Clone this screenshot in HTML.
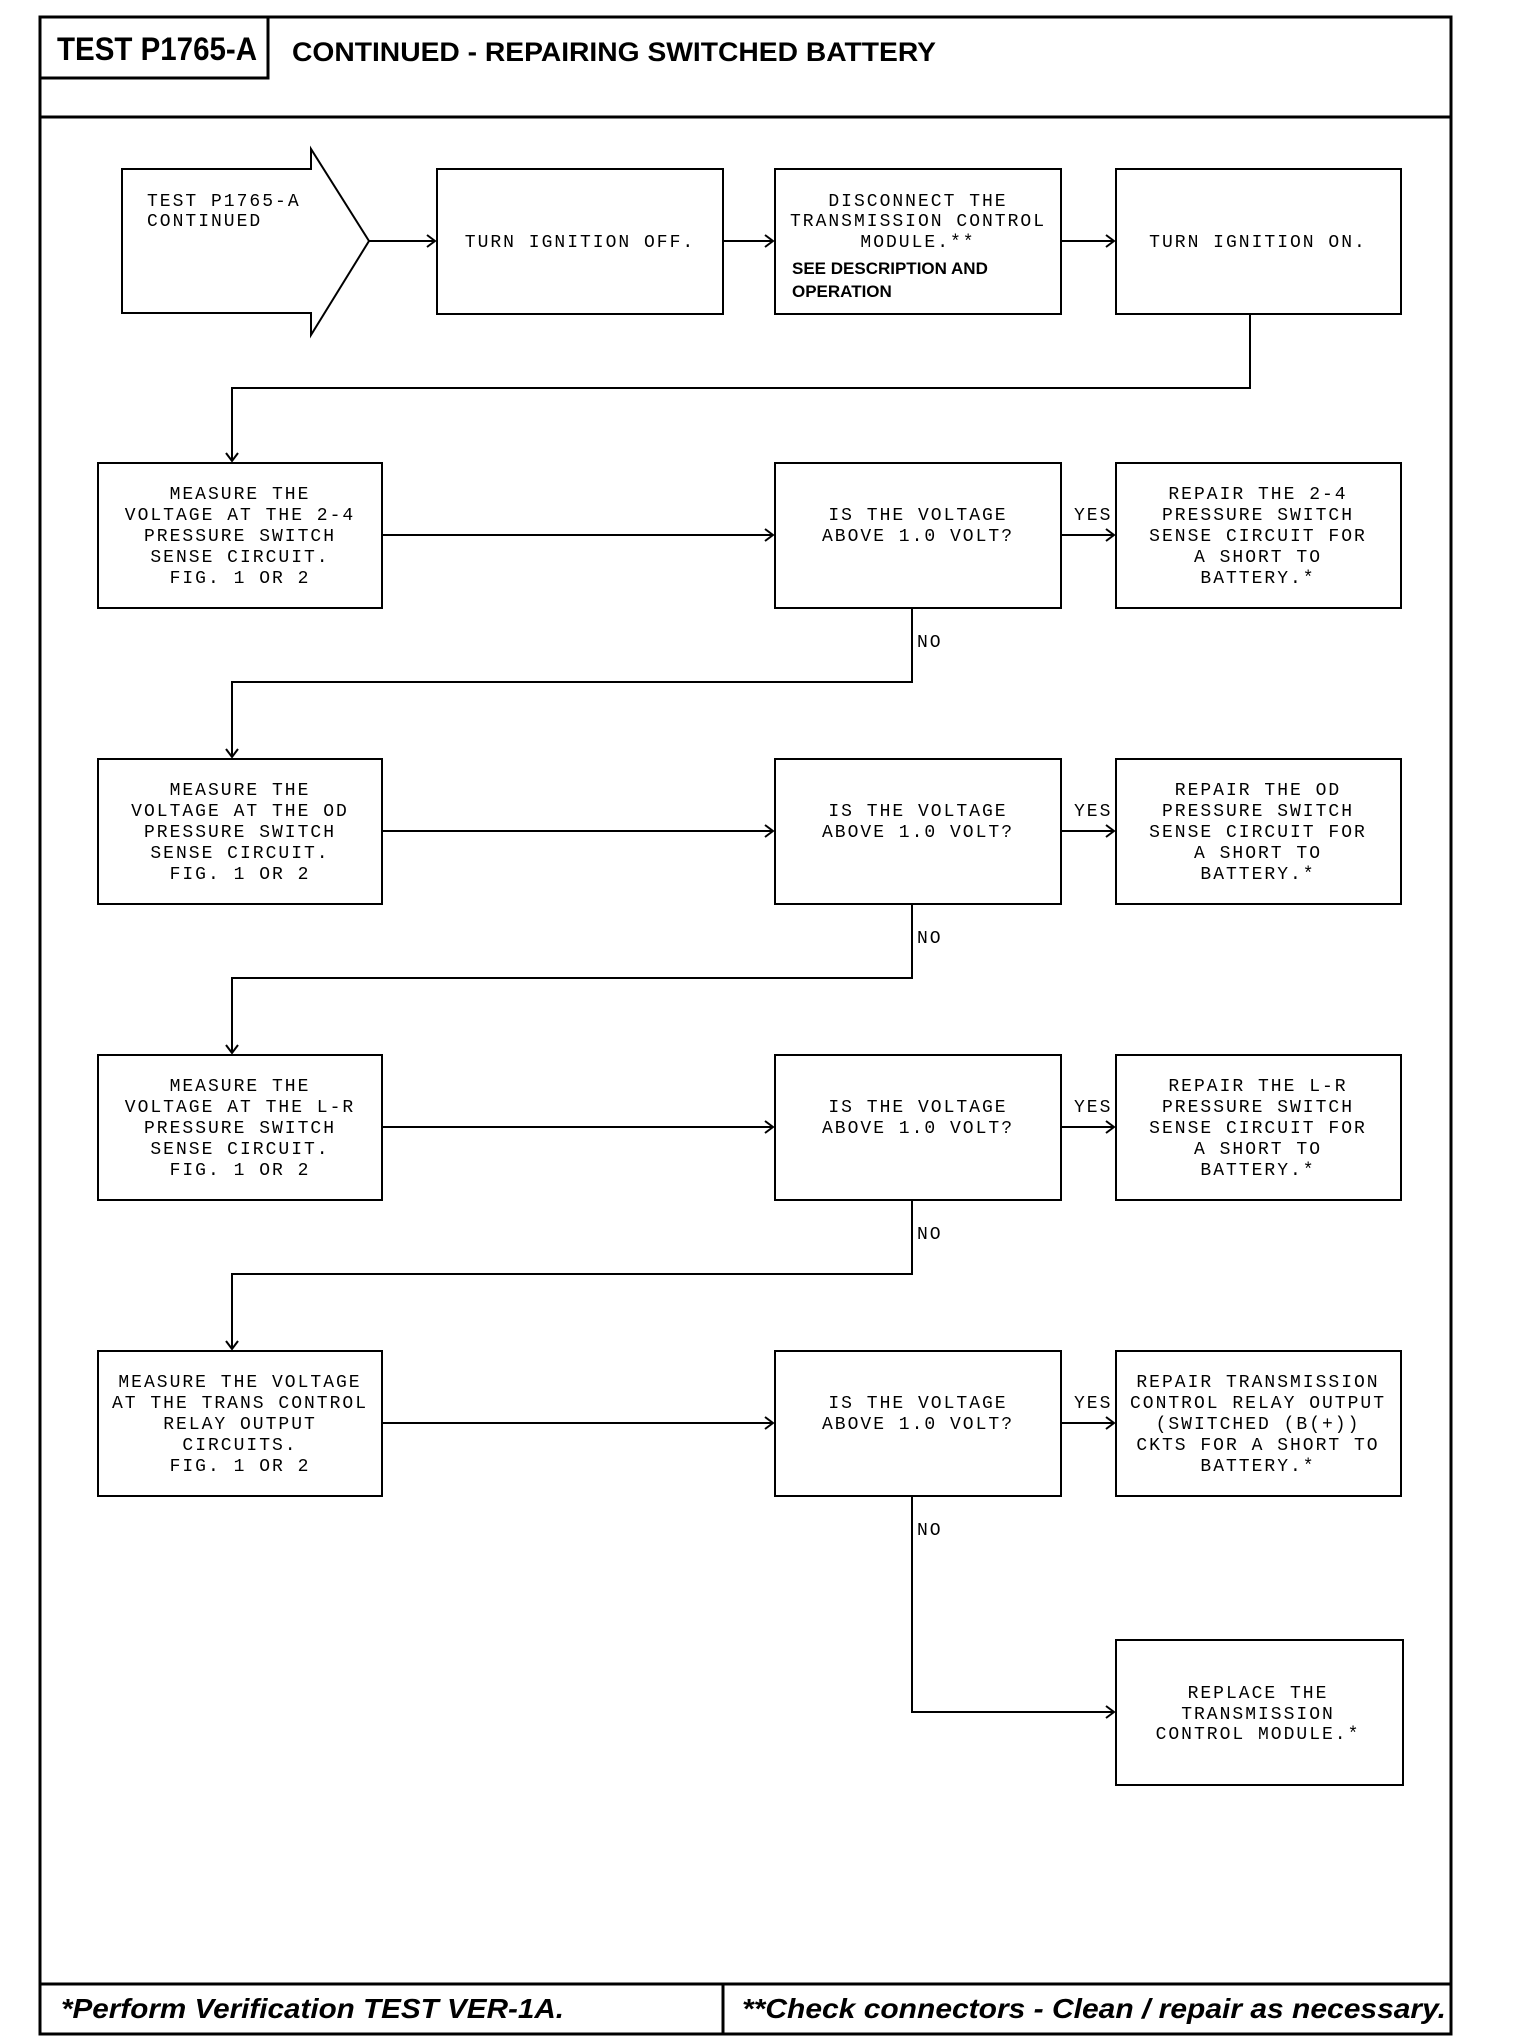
<!DOCTYPE html>
<html><head><meta charset="utf-8"><style>
html,body{margin:0;padding:0;background:#fff}
svg{display:block}
.m{font-family:"Liberation Mono",monospace;font-size:18px;letter-spacing:2px;fill:#000}
.b{font-family:"Liberation Sans",sans-serif;font-weight:bold;fill:#000}
</style></head><body>
<svg width="1520" height="2038" viewBox="0 0 1520 2038" xmlns="http://www.w3.org/2000/svg">
<g fill="none" stroke="#000" stroke-width="3">
<rect x="40" y="17" width="1411" height="2017"/>
<line x1="40" y1="117" x2="1451" y2="117"/>
<polyline points="40,78 268,78 268,17"/>
<line x1="40" y1="1984" x2="1451" y2="1984"/>
<line x1="723" y1="1984" x2="723" y2="2034"/>
</g>
<text class="b" x="57" y="60" font-size="32" textLength="200" lengthAdjust="spacingAndGlyphs">TEST P1765-A</text>
<text class="b" x="292" y="61" font-size="27" textLength="644" lengthAdjust="spacingAndGlyphs">CONTINUED - REPAIRING SWITCHED BATTERY</text>
<text class="b" x="61" y="2018" font-size="28" font-style="italic" textLength="503" lengthAdjust="spacingAndGlyphs">*Perform Verification TEST VER-1A.</text>
<text class="b" x="742" y="2018" font-size="28" font-style="italic" textLength="704" lengthAdjust="spacingAndGlyphs">**Check connectors - Clean / repair as necessary.</text>

<g fill="none" stroke="#000" stroke-width="2">
<polygon points="122,169 311,169 311,149 369,241 311,335 311,313 122,313"/>
<rect x="437" y="169" width="286" height="145"/>
<rect x="775" y="169" width="286" height="145"/>
<rect x="1116" y="169" width="285" height="145"/>
<line x1="369" y1="241" x2="435" y2="241"/><polyline points="427,235 435,241 427,247"/>
<line x1="723" y1="241" x2="773" y2="241"/><polyline points="765,235 773,241 765,247"/>
<line x1="1061" y1="241" x2="1114" y2="241"/><polyline points="1106,235 1114,241 1106,247"/>
<polyline points="1250,314 1250,388 232,388 232,461"/><polyline points="226,453 232,461 238,453"/>
</g>
<text class="m" x="147" y="206">TEST P1765-A</text>
<text class="m" x="147" y="226">CONTINUED</text>
<text class="m" x="580" y="247" text-anchor="middle">TURN IGNITION OFF.</text>
<text class="m" x="918" y="206" text-anchor="middle">DISCONNECT THE</text>
<text class="m" x="918" y="226" text-anchor="middle">TRANSMISSION CONTROL</text>
<text class="m" x="918" y="247" text-anchor="middle">MODULE.**</text>
<text class="b" x="792" y="274" font-size="17">SEE DESCRIPTION AND</text>
<text class="b" x="792" y="297" font-size="17">OPERATION</text>
<text class="m" x="1258" y="247" text-anchor="middle">TURN IGNITION ON.</text>

<!-- rows -->
<g id="r1">
<g fill="none" stroke="#000" stroke-width="2">
<rect x="98" y="463" width="284" height="145"/><rect x="775" y="463" width="286" height="145"/><rect x="1116" y="463" width="285" height="145"/>
<line x1="382" y1="535" x2="773" y2="535"/><polyline points="765,529 773,535 765,541"/>
<line x1="1061" y1="535" x2="1114" y2="535"/><polyline points="1106,529 1114,535 1106,541"/>
<polyline points="912,608 912,682 232,682 232,757"/><polyline points="226,749 232,757 238,749"/>
</g>
<g class="m" text-anchor="middle">
<text x="240" y="499">MEASURE THE</text><text x="240" y="520">VOLTAGE AT THE 2-4</text><text x="240" y="541">PRESSURE SWITCH</text><text x="240" y="562">SENSE CIRCUIT.</text><text x="240" y="583">FIG. 1 OR 2</text>
<text x="918" y="520">IS THE VOLTAGE</text><text x="918" y="541">ABOVE 1.0 VOLT?</text>
<text x="1258" y="499">REPAIR THE 2-4</text><text x="1258" y="520">PRESSURE SWITCH</text><text x="1258" y="541">SENSE CIRCUIT FOR</text><text x="1258" y="562">A SHORT TO</text><text x="1258" y="583">BATTERY.*</text>
</g>
<text class="m" x="1074" y="520" letter-spacing="0">YES</text>
<text class="m" x="917" y="647" letter-spacing="0">NO</text>
</g>

<g transform="translate(0,296)">
<g fill="none" stroke="#000" stroke-width="2">
<rect x="98" y="463" width="284" height="145"/><rect x="775" y="463" width="286" height="145"/><rect x="1116" y="463" width="285" height="145"/>
<line x1="382" y1="535" x2="773" y2="535"/><polyline points="765,529 773,535 765,541"/>
<line x1="1061" y1="535" x2="1114" y2="535"/><polyline points="1106,529 1114,535 1106,541"/>
<polyline points="912,608 912,682 232,682 232,757"/><polyline points="226,749 232,757 238,749"/>
</g>
<g class="m" text-anchor="middle">
<text x="240" y="499">MEASURE THE</text><text x="240" y="520">VOLTAGE AT THE OD</text><text x="240" y="541">PRESSURE SWITCH</text><text x="240" y="562">SENSE CIRCUIT.</text><text x="240" y="583">FIG. 1 OR 2</text>
<text x="918" y="520">IS THE VOLTAGE</text><text x="918" y="541">ABOVE 1.0 VOLT?</text>
<text x="1258" y="499">REPAIR THE OD</text><text x="1258" y="520">PRESSURE SWITCH</text><text x="1258" y="541">SENSE CIRCUIT FOR</text><text x="1258" y="562">A SHORT TO</text><text x="1258" y="583">BATTERY.*</text>
</g>
<text class="m" x="1074" y="520" letter-spacing="0">YES</text>
<text class="m" x="917" y="647" letter-spacing="0">NO</text>
</g>

<g transform="translate(0,592)">
<g fill="none" stroke="#000" stroke-width="2">
<rect x="98" y="463" width="284" height="145"/><rect x="775" y="463" width="286" height="145"/><rect x="1116" y="463" width="285" height="145"/>
<line x1="382" y1="535" x2="773" y2="535"/><polyline points="765,529 773,535 765,541"/>
<line x1="1061" y1="535" x2="1114" y2="535"/><polyline points="1106,529 1114,535 1106,541"/>
<polyline points="912,608 912,682 232,682 232,757"/><polyline points="226,749 232,757 238,749"/>
</g>
<g class="m" text-anchor="middle">
<text x="240" y="499">MEASURE THE</text><text x="240" y="520">VOLTAGE AT THE L-R</text><text x="240" y="541">PRESSURE SWITCH</text><text x="240" y="562">SENSE CIRCUIT.</text><text x="240" y="583">FIG. 1 OR 2</text>
<text x="918" y="520">IS THE VOLTAGE</text><text x="918" y="541">ABOVE 1.0 VOLT?</text>
<text x="1258" y="499">REPAIR THE L-R</text><text x="1258" y="520">PRESSURE SWITCH</text><text x="1258" y="541">SENSE CIRCUIT FOR</text><text x="1258" y="562">A SHORT TO</text><text x="1258" y="583">BATTERY.*</text>
</g>
<text class="m" x="1074" y="520" letter-spacing="0">YES</text>
<text class="m" x="917" y="647" letter-spacing="0">NO</text>
</g>

<g transform="translate(0,888)">
<g fill="none" stroke="#000" stroke-width="2">
<rect x="98" y="463" width="284" height="145"/><rect x="775" y="463" width="286" height="145"/><rect x="1116" y="463" width="285" height="145"/>
<line x1="382" y1="535" x2="773" y2="535"/><polyline points="765,529 773,535 765,541"/>
<line x1="1061" y1="535" x2="1114" y2="535"/><polyline points="1106,529 1114,535 1106,541"/>
<polyline points="912,608 912,824 1114,824"/><polyline points="1106,818 1114,824 1106,830"/>
<rect x="1116" y="752" width="287" height="145"/>
</g>
<g class="m" text-anchor="middle">
<text x="240" y="499">MEASURE THE VOLTAGE</text><text x="240" y="520">AT THE TRANS CONTROL</text><text x="240" y="541">RELAY OUTPUT</text><text x="240" y="562">CIRCUITS.</text><text x="240" y="583">FIG. 1 OR 2</text>
<text x="918" y="520">IS THE VOLTAGE</text><text x="918" y="541">ABOVE 1.0 VOLT?</text>
<text x="1258" y="499">REPAIR TRANSMISSION</text><text x="1258" y="520">CONTROL RELAY OUTPUT</text><text x="1258" y="541">(SWITCHED (B(+))</text><text x="1258" y="562">CKTS FOR A SHORT TO</text><text x="1258" y="583">BATTERY.*</text>
<text x="1258" y="810">REPLACE THE</text><text x="1258" y="831">TRANSMISSION</text><text x="1258" y="851">CONTROL MODULE.*</text>
</g>
<text class="m" x="1074" y="520" letter-spacing="0">YES</text>
<text class="m" x="917" y="647" letter-spacing="0">NO</text>
</g>
</svg>
</body></html>
